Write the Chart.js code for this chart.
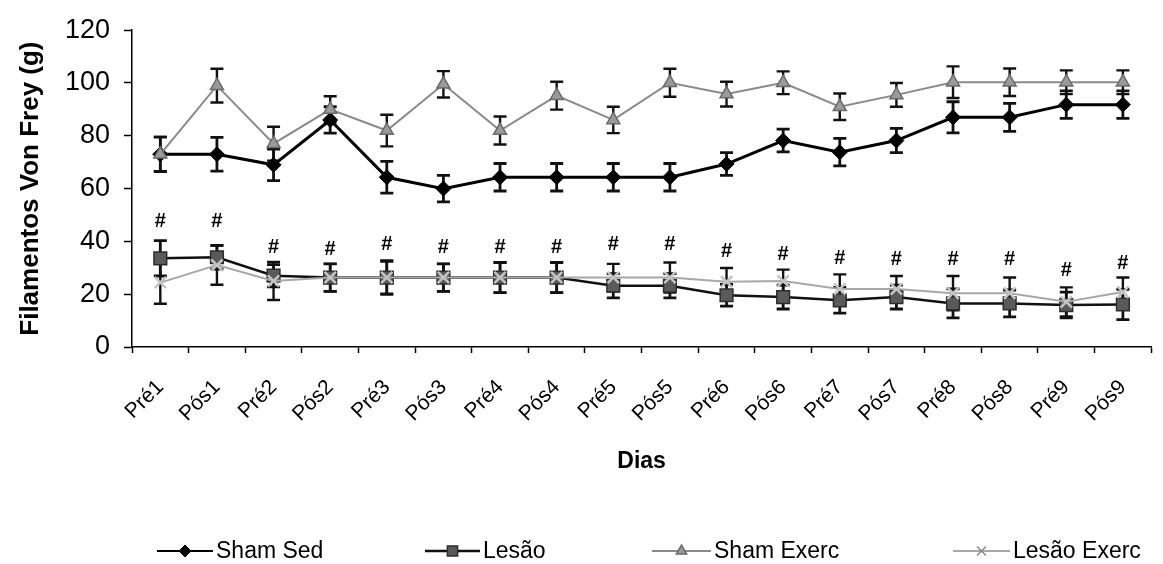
<!DOCTYPE html>
<html><head><meta charset="utf-8">
<script src="https://cdn.jsdelivr.net/npm/chart.js@4.4.1/dist/chart.umd.min.js"></script>
<style>html,body{margin:0;padding:0;background:#fff}</style>
</head><body>
<canvas id="c" width="1163" height="564"></canvas>
<script>
const categories = ['Pré1','Pós1','Pré2','Pós2','Pré3','Pós3','Pré4','Pós4','Pré5','Pós5','Pré6','Pós6','Pré7','Pós7','Pré8','Pós8','Pré9','Pós9'];
const yTicks = [0, 20, 40, 60, 80, 100, 120];
const seriesNames = ['Sham Sed', 'Lesão', 'Sham Exerc', 'Lesão Exerc'];

const shamSed      = [73, 73, 69, 86, 64.3, 60, 64.3, 64.3, 64.3, 64.3, 69.3, 78.2, 73.8, 78.2, 87, 87, 91.8, 91.8];
const shamSedErr   = [6.5, 6.4, 6, 5, 6, 5, 5.2, 5.2, 5.2, 5.2, 4.3, 4.3, 5.2, 4.6, 5.9, 5.3, 5.2, 5.2];
const lesao        = [33.6, 34, 27, 26.3, 26.3, 26.3, 26.3, 26.3, 23.2, 23.2, 19.6, 18.9, 17.7, 18.9, 16.5, 16.5, 15.9, 16.1];
const lesaoErr     = [6.7, 4.5, 4.2, 5.2, 6.4, 5.2, 5.7, 5.7, 4.6, 4.6, 4.1, 4.5, 4.9, 4.5, 5.5, 5.1, 4.9, 5.7];
const shamExerc    = [73, 99, 77, 90, 82, 99.5, 82, 95.2, 86, 100.1, 95.8, 100.1, 91, 95.5, 100.3, 100.3, 100.3, 100.3];
const shamExercErr = [6.6, 6.4, 6.4, 5, 6, 5, 5.3, 5.3, 5, 5.3, 4.7, 4.3, 5, 4.5, 6, 5.2, 4.5, 4.5];
const lesaoExerc   = [24.4, 31, 25, 26.3, 26.3, 26.3, 26.3, 26.3, 26.3, 26.3, 24.7, 25, 22, 22, 20.4, 20.4, 17.1, 20.8];
const lesaoExercErr= [8, 7.4, 7.2, 5.2, 6.1, 5.2, 5.7, 5.7, 5.2, 5.7, 5.2, 4.3, 5.5, 4.9, 6.5, 5.9, 5.5, 5.5];
const hashY        = [47.5, 47.5, 37.6, 36.9, 38.7, 37.6, 37.6, 37.6, 38.7, 39, 36.3, 35, 33.6, 33.3, 33.2, 33, 29, 31.7];

const FONT = "'Liberation Sans', Arial, Helvetica, sans-serif";
const AREA = {left: 132, top: 19, right: 1163, bottom: 347};

const styles = [
  {line: '#000000', width: 3,   point: 'rectRot',  radius: 7.5, fill: '#000000', stroke: '#000000', pw: 1},
  {line: '#111111', width: 2.5, point: 'rect',     radius: 9,   fill: '#5a5a5a', stroke: '#2e2e2e', pw: 1.5},
  {line: '#8a8a8a', width: 2,   point: 'triangle', radius: 7.5, fill: '#9a9a9a', stroke: '#6a6a6a', pw: 1.5},
  {line: '#a8a8a8', width: 2,   point: 'crossRot', radius: 8,   fill: '#ffffff', stroke: '#c4c4c4', pw: 2.5}
];
const values = [shamSed, lesao, shamExerc, lesaoExerc];
const errors = [shamSedErr, lesaoErr, shamExercErr, lesaoExercErr];

function drawMarker(ctx, s, x, y, r) {
  ctx.save();
  ctx.fillStyle = s.fill; ctx.strokeStyle = s.stroke; ctx.lineWidth = s.pw;
  ctx.beginPath();
  if (s.point === 'rectRot') { ctx.moveTo(x - r, y); ctx.lineTo(x, y - r); ctx.lineTo(x + r, y); ctx.lineTo(x, y + r); ctx.closePath(); ctx.fill(); ctx.stroke(); }
  else if (s.point === 'rect') { const h = r * Math.SQRT1_2; ctx.rect(x - h, y - h, 2 * h, 2 * h); ctx.fill(); ctx.stroke(); }
  else if (s.point === 'triangle') { ctx.moveTo(x, y - r); ctx.lineTo(x + r * 0.866, y + r * 0.5); ctx.lineTo(x - r * 0.866, y + r * 0.5); ctx.closePath(); ctx.fill(); ctx.stroke(); }
  else { const d = r * Math.SQRT1_2; ctx.strokeStyle = '#8a8a8a'; ctx.lineWidth = 1.5; ctx.moveTo(x - d, y - d); ctx.lineTo(x + d, y + d); ctx.moveTo(x + d, y - d); ctx.lineTo(x - d, y + d); ctx.stroke(); }
  ctx.restore();
}

const errorBars = {
  id: 'errorBars',
  beforeDatasetsDraw(chart) {
    const ctx = chart.ctx, xs = chart.scales.x, ys = chart.scales.y;
    ctx.save();
    errors.forEach((err, d) => {
      ctx.strokeStyle = '#111';
      ctx.lineWidth = d < 2 ? 2.8 : 2.4;
      values[d].forEach((v, i) => {
        const x = xs.getPixelForValue(i);
        const y1 = ys.getPixelForValue(v + err[i]);
        const y2 = ys.getPixelForValue(v - err[i]);
        ctx.beginPath();
        ctx.moveTo(x, y1); ctx.lineTo(x, y2);
        ctx.moveTo(x - 6.5, y1); ctx.lineTo(x + 6.5, y1);
        ctx.moveTo(x - 6.5, y2); ctx.lineTo(x + 6.5, y2);
        ctx.stroke();
      });
    });
    ctx.restore();
  }
};
const hashMarks = {
  id: 'hashMarks',
  afterDatasetsDraw(chart) {
    const ctx = chart.ctx, xs = chart.scales.x, ys = chart.scales.y;
    ctx.save();
    ctx.fillStyle = '#000';
    ctx.font = 'bold 20px ' + FONT;
    ctx.textAlign = 'center'; ctx.textBaseline = 'middle';
    hashY.forEach((v, i) => ctx.fillText('#', xs.getPixelForValue(i), ys.getPixelForValue(v)));
    ctx.restore();
  }
};
// Excel-style legend: line sample with marker, then label
const legendLayout = [
  {x1: 157, x2: 213, tx: 216},
  {x1: 425, x2: 480, tx: 483},
  {x1: 652, x2: 711, tx: 714},
  {x1: 953, x2: 1010, tx: 1013}
];
const excelLegend = {
  id: 'excelLegend',
  afterDraw(chart) {
    const ctx = chart.ctx, y = 551;
    ctx.save();
    chart.data.datasets.forEach((ds, i) => {
      const s = styles[i], L = legendLayout[i];
      ctx.strokeStyle = s.line; ctx.lineWidth = i === 1 ? 2.5 : 2;
      ctx.beginPath(); ctx.moveTo(L.x1, y); ctx.lineTo(L.x2, y); ctx.stroke();
      drawMarker(ctx, s, (L.x1 + L.x2) / 2, y, s.radius * 0.8);
      ctx.fillStyle = '#000'; ctx.font = '23px ' + FONT;
      ctx.textAlign = 'left'; ctx.textBaseline = 'middle';
      ctx.fillText(ds.label, L.tx, y + 1);
    });
    ctx.restore();
  }
};

const datasets = values.map((vals, d) => ({
  label: seriesNames[d],
  data: vals,
  borderColor: styles[d].line,
  borderWidth: styles[d].width,
  backgroundColor: styles[d].fill,
  pointStyle: styles[d].point,
  pointRadius: styles[d].radius,
  pointBackgroundColor: styles[d].fill,
  pointBorderColor: styles[d].stroke,
  pointBorderWidth: styles[d].pw,
  tension: 0,
  fill: false,
  order: 3 - d
}));

const X_AXIS_HEIGHT = 140;
const chart = new Chart(document.getElementById('c'), {
  type: 'line',
  data: {labels: categories, datasets},
  plugins: [errorBars, hashMarks, excelLegend],
  options: {
    responsive: false,
    animation: false,
    devicePixelRatio: 1,
    layout: {padding: {top: AREA.top, right: 1163 - AREA.right, left: 0, bottom: 564 - AREA.bottom - X_AXIS_HEIGHT}},
    plugins: {
      tooltip: {enabled: false},
      legend: {display: false}
    },
    scales: {
      x: {
        type: 'category',
        offset: true,
        grid: {display: true, drawOnChartArea: false, offset: true, color: '#000', tickLength: 6, tickWidth: 1.5},
        border: {display: true, color: '#000', width: 1.5},
        ticks: {minRotation: 45, maxRotation: 45, color: '#000', font: {family: FONT, size: 21}, padding: 22, autoSkip: false},
        title: {display: true, text: 'Dias', color: '#000', font: {family: FONT, size: 23, weight: 'bold'}, padding: {top: 0, bottom: 12}},
        afterFit: (s) => { s.height = X_AXIS_HEIGHT; }
      },
      y: {
        min: 0, max: 120,
        afterBuildTicks: (s) => { s.ticks = yTicks.map(v => ({value: v})); },
        grid: {display: true, drawOnChartArea: false, color: '#000', tickLength: 8, tickWidth: 1.5},
        border: {display: true, color: '#000', width: 1.5},
        ticks: {color: '#000', font: {family: FONT, size: 27}, padding: 14},
        title: {display: true, text: 'Filamentos Von Frey (g)', color: '#000', font: {family: FONT, size: 26, weight: 'bold'}, padding: {top: 15, bottom: 0}},
        afterFit: (s) => { s.width = AREA.left; }
      }
    }
  }
});
</script>
</body></html>
